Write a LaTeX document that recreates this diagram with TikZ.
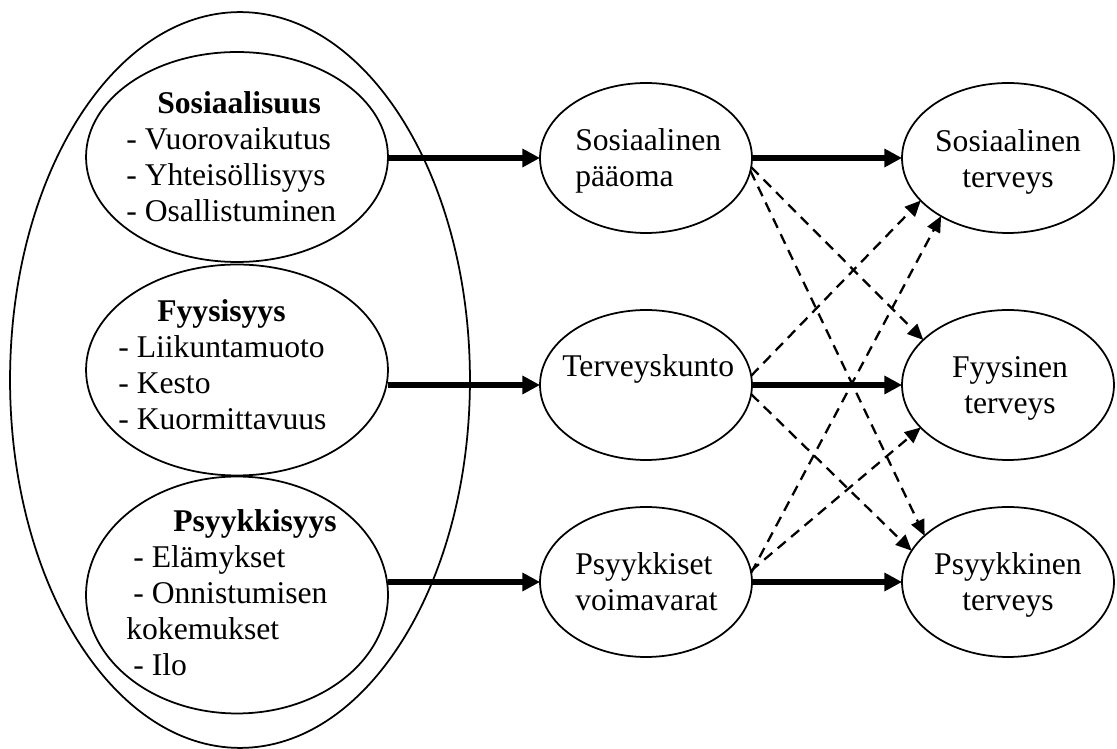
\documentclass[tikz,border=0pt]{standalone}
\usepackage{fontspec}
\setmainfont{Liberation Serif}
\usetikzlibrary{shapes.geometric,arrows.meta}

\begin{document}
\begin{tikzpicture}[x=0.02cm, y=-0.02cm,
	kupla/.style={draw, ellipse, line width=1pt, inner sep=0pt, outer sep=0pt},
	teksti/.style={inner sep=0pt, font=\fontsize{18}{20.5}\selectfont},
	paanuoli/.style={line width=3pt, -{Triangle[length=10pt, width=10pt]}},
	katkonuoli/.style={line width=1.3pt, dash pattern=on 6pt off 4pt, -{Triangle[length=9pt, width=8pt]}}]
		%%%%% START %%%%%
		
		\useasboundingbox (0, 0) rectangle (1117, 749);
		
		\node[kupla, minimum width=9.2cm, minimum height=14.72cm] (koko) at (240, 380) {};
		
		\node[kupla, minimum width=6.04cm, minimum height=4.2cm] (sos) at (237, 157) {};
		\node[kupla, minimum width=6.04cm, minimum height=4.22cm] (fyy) at (237, 370) {};
		\node[kupla, minimum width=6.04cm, minimum height=4.74cm] (psy) at (237, 595) {};
		
		% base = viimeisen rivin perusviiva
		\node[teksti, anchor=base west, align=left] (sos-teksti) at (126, 222) {\hspace*{0.62cm}\textbf{Sosiaalisuus}\\- Vuorovaikutus\\- Yhteisöllisyys\\- Osallistuminen};
		\node[teksti, anchor=base west, align=left] (fyy-teksti) at (118, 430) {\hspace*{0.78cm}\textbf{Fyysisyys}\\- Liikuntamuoto\\- Kesto\\- Kuormittavuus};
		\node[teksti, anchor=base west, align=left] (psy-teksti) at (126, 676) {\hspace*{0.94cm}\textbf{Psyykkisyys}\\\hspace*{0.14cm}- Elämykset\\\hspace*{0.14cm}- Onnistumisen\\kokemukset\\\hspace*{0.14cm}- Ilo};
		
		\node[kupla, minimum width=4.24cm, minimum height=3cm] (pa) at (646, 158) {};
		\node[kupla, minimum width=4.24cm, minimum height=3cm] (tk) at (646, 385) {};
		\node[kupla, minimum width=4.24cm, minimum height=3cm] (pv) at (646, 582) {};
		
		\node[teksti, anchor=base west, align=left] (pa-teksti) at (575, 187) {Sosiaalinen\\pääoma};
		\node[teksti, anchor=base west] (tk-teksti) at (562, 377) {Terveyskunto};
		\node[teksti, anchor=base west, align=left] (pv-teksti) at (575, 611) {Psyykkiset\\voimavarat};
		
		\node[kupla, minimum width=4.24cm, minimum height=3cm] (st) at (1008, 158) {};
		\node[kupla, minimum width=4.24cm, minimum height=3cm] (ft) at (1008, 385) {};
		\node[kupla, minimum width=4.24cm, minimum height=3cm] (pt) at (1008, 582) {};
		
		\node[teksti, anchor=base, align=center] (st-teksti) at (1008, 188) {Sosiaalinen\\terveys};
		\node[teksti, anchor=base, align=center] (ft-teksti) at (1010, 414) {Fyysinen\\terveys};
		\node[teksti, anchor=base, align=center] (pt-teksti) at (1008, 611) {Psyykkinen\\terveys};
		
		\draw[paanuoli] (sos.east |- pa) -- (pa.west);
		\draw[paanuoli] (fyy.east |- tk) -- (tk.west);
		\draw[paanuoli] (psy.east |- pv) -- (pv.west);
		
		\draw[paanuoli] (pa.east) -- (st.west);
		\draw[paanuoli] (tk.east) -- (ft.west);
		\draw[paanuoli] (pv.east) -- (pt.west);
		
		\draw[katkonuoli] (pa.-5) -- (ft.152);
		\draw[katkonuoli] (pa.-7) -- (pt.151);
		\draw[katkonuoli] (tk.5) -- (st.206);
		\draw[katkonuoli] (tk.-5) -- (pt.162);
		\draw[katkonuoli] (pv.5) -- (st.221);
		\draw[katkonuoli] (pv.6) -- (ft.206);
		
		%%%%% END %%%%%
\end{tikzpicture}
\end{document}
